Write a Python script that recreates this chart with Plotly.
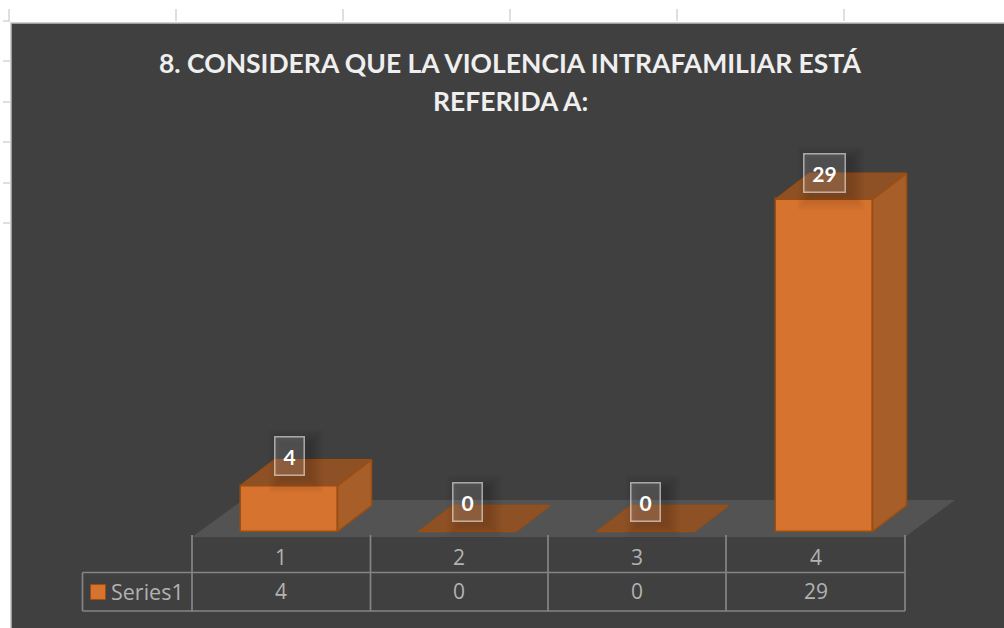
import plotly.graph_objects as go

# ---- data ----
categories = [1, 2, 3, 4]
series_name = "Series1"
values = [4, 0, 0, 29]
title_lines = ["8. CONSIDERA QUE LA VIOLENCIA INTRAFAMILIAR ESTÁ", "REFERIDA A:"]

W, H = 1004, 628
# axis scale: category 1 at px 289, category 4 at px 824; value 0 at px 531.5, 29 at px 199.3
X_PER_CAT = (824 - 289) / 3
Y_PER_UNIT = (531.5 - 199.3) / 29
x_range = [1 - 289 / X_PER_CAT, 1 + (W - 289) / X_PER_CAT]
y_range = [-(H - 531.5) / Y_PER_UNIT, 531.5 / Y_PER_UNIT]
BAR_W = 97 / X_PER_CAT
DX = 34 / X_PER_CAT
DY = 26 / Y_PER_UNIT

FRONT = "#D6732F"
SIDE = "#A85E29"
TOP = "#8E5125"
EDGE = "#9A4E12"
BG = "#404040"
GRID = "#858585"
TXT = "#B2B2B2"
FONT = "Lato"
TABLE_FONT = "Open Sans"


def px(x):
    return x / W


def py(y):
    return 1 - y / H


def rect(x0, y0, x1, y1, **kw):
    return dict(type="rect", xref="paper", yref="paper", x0=px(x0), x1=px(x1), y0=py(y0), y1=py(y1), **kw)


def line(x0, y0, x1, y1, color=GRID, width=1.7):
    return dict(type="line", xref="paper", yref="paper", x0=px(x0), x1=px(x1), y0=py(y0), y1=py(y1),
                line=dict(color=color, width=width), layer="below")


def label_shift(v):
    return 30 - 0.14 * v


fig = go.Figure()

# front faces
fig.add_trace(go.Bar(x=categories, y=values, width=BAR_W, name=series_name,
                     marker=dict(color=FRONT, line=dict(color=EDGE, width=1.5)),
                     showlegend=False, hoverinfo="skip"))

# side and top faces derived from the values
for c, v in zip(categories, values):
    xl, xr = c - BAR_W / 2, c + BAR_W / 2
    if v > 0:
        fig.add_trace(go.Scatter(x=[xr, xr + DX, xr + DX, xr, xr], y=[0, DY, v + DY, v, 0], mode="lines",
                                 fill="toself", fillcolor=SIDE, line=dict(color=EDGE, width=1.5),
                                 showlegend=False, hoverinfo="skip"))
    fig.add_trace(go.Scatter(x=[xl, xr, xr + DX, xl + DX, xl], y=[v, v, v + DY, v + DY, v], mode="lines",
                             fill="toself", fillcolor=TOP, line=dict(color=EDGE, width=1.5),
                             showlegend=False, hoverinfo="skip"))

shapes = []
# surrounding sheet
shapes.append(rect(11, 23, W + 2, H + 2, fillcolor=BG, line=dict(color="#BEBEBE", width=1.5), layer="below"))
for x in [9, 176, 343, 510, 677, 844]:
    shapes.append(line(x, 9, x, 21, "#D4D4D4", 1.5))
for y in [21, 61, 102, 142, 183, 223]:
    shapes.append(line(3, y, 10, y, "#D4D4D4", 1.5))
# floor
shapes.append(dict(type="path", xref="paper", yref="paper", layer="below", line=dict(width=0),
                   fillcolor="#545353",
                   path=f"M {px(192)} {py(537)} L {px(905)} {py(537)} L {px(955)} {py(500)} L {px(243)} {py(500)} Z"))
# data table
cols = [192, 370.5, 548, 726, 905]
for x in cols:
    shapes.append(line(x, 535, x, 611))
shapes.append(line(82.5, 572.5, 905, 572.5))
shapes.append(line(82.5, 611, 905, 611))
shapes.append(line(82.5, 572.5, 82.5, 611))
shapes.append(rect(90.5, 584.5, 105.5, 599.5, fillcolor=FRONT, line=dict(color=EDGE, width=1), layer="below"))

# soft shadow behind each value label
for c, v in zip(categories, values):
    half = (29 if v < 10 else 41) / 2
    s = label_shift(v)
    for grow in [1, 3, 5, 7, 9, 11, 13]:
        shapes.append(dict(type="rect", xref="x", yref="y", xsizemode="pixel", ysizemode="pixel",
                           xanchor=c, yanchor=v, layer="above", line=dict(width=0),
                           fillcolor="rgba(0,0,0,0.018)",
                           x0=-half - grow + 7, x1=half + grow + 7,
                           y0=s - 18.5 - grow - 5, y1=s + 18.5 + grow - 5))

ann = []
for text, ypx in zip(title_lines, [63, 101]):
    ann.append(dict(text=f"<b>{text}</b>", xref="paper", yref="paper", x=px(510), y=py(ypx),
                    xanchor="center", yanchor="middle", showarrow=False,
                    font=dict(family=FONT, size=26.5, color="#EFEFEF")))
# bar labels
for c, v in zip(categories, values):
    ann.append(dict(text=f"<b>{v}</b>", x=c, y=v, xref="x", yref="y", yshift=label_shift(v), showarrow=False,
                    xanchor="center", yanchor="middle", font=dict(family=FONT, size=21, color="#FFFFFF"),
                    width=28 if v < 10 else 40, height=37, bgcolor="rgba(255,255,255,0.14)",
                    bordercolor="rgba(255,255,255,0.55)", borderwidth=1.5, borderpad=0))
# table text
for c, v, x0, x1 in zip(categories, values, cols[:-1], cols[1:]):
    xc = (x0 + x1) / 2
    for text, ypx in [(c, 557), (v, 591)]:
        ann.append(dict(text=str(text), xref="paper", yref="paper", x=px(xc), y=py(ypx), xanchor="center",
                        yanchor="middle", showarrow=False, font=dict(family=TABLE_FONT, size=21, color=TXT)))
ann.append(dict(text=series_name, xref="paper", yref="paper", x=px(109), y=py(591), xanchor="left", yanchor="middle",
                showarrow=False, font=dict(family=TABLE_FONT, size=21.5, color=TXT)))

fig.update_layout(
    width=W, height=H, margin=dict(l=0, r=0, t=0, b=0), autosize=False,
    paper_bgcolor="#FFFFFF", plot_bgcolor="rgba(0,0,0,0)",
    xaxis=dict(range=x_range, visible=False, domain=[0, 1]),
    yaxis=dict(range=y_range, visible=False, domain=[0, 1]),
    shapes=shapes, annotations=ann, showlegend=False, bargap=0,
)
fig.write_html("out.html", post_script="document.body.style.margin='0';", config={"displayModeBar": False})
